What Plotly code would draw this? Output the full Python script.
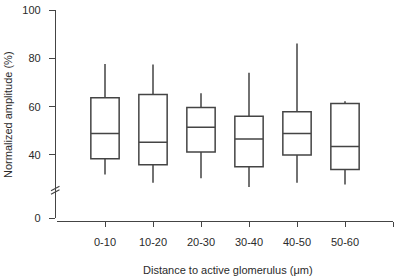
import plotly.graph_objects as go

categories = ["0-10", "10-20", "20-30", "30-40", "40-50", "50-60"]
upper_whisker = [77.8, 77.6, 65.6, 74.1, 86.3, 62.3]
q3 = [63.8, 65.1, 59.7, 56.1, 57.9, 61.4]
median = [48.9, 45.3, 51.5, 46.6, 48.9, 43.5]
q1 = [38.4, 35.9, 41.2, 35.1, 40.0, 34.0]
lower_whisker = [31.9, 28.5, 30.3, 26.7, 28.5, 27.7]

y_tick_labels = ["0", "40", "60", "80", "100"]
y_tick_values = [40, 60, 80, 100]
axis_break_bottom = 13.8  # value drawn at the bottom of the broken axis (labelled 0)

W, H = 397, 278
ML, MR, MT, MB = 55, 4, 8, 57
PW = W - ML - MR
PH = H - MT - MB

def px(x):
    return (x - ML) / PW

def py(y):
    return (H - MB - y) / PH

positions = list(range(len(categories)))
line_col = "#444444"
text_col = "#2a2a2a"
font = dict(family="Liberation Sans, Arial, sans-serif", size=11, color=text_col)

fig = go.Figure()
fig.add_trace(go.Box(
    x=positions,
    q1=q1, median=median, q3=q3,
    lowerfence=lower_whisker, upperfence=upper_whisker,
    boxpoints=False,
    width=0.59,
    whiskerwidth=0,
    fillcolor="rgba(0,0,0,0)",
    line=dict(color=line_col, width=1.5),
    showlegend=False,
    hoverinfo="skip",
))

shapes = []
# axis break slashes
for dy in (0, 3.5):
    shapes.append(dict(type="line", xref="paper", yref="paper",
                       x0=px(51), y0=py(190.5 + dy), x1=px(59.5), y1=py(186 + dy),
                       line=dict(color=line_col, width=1.2)))

fig.update_layout(
    width=W, height=H,
    margin=dict(l=ML, r=MR, t=MT, b=MB),
    paper_bgcolor="white", plot_bgcolor="white",
    font=font,
    shapes=shapes,
    xaxis=dict(
        domain=[2 / PW, 1],
        anchor="free", position=0,
        range=[-1, len(categories)],
        tickvals=positions + [len(categories)],
        ticktext=categories + [""],
        ticks="outside", ticklen=5, tickwidth=1.3, tickcolor=line_col,
        showline=True, linecolor=line_col, linewidth=1.3,
        showgrid=False, zeroline=False,
        ticklabelstandoff=6,
        tickfont=font,
    ),
    yaxis=dict(
        domain=[3 / PH, 1],
        anchor="free", position=0,
        range=[axis_break_bottom, 100.2],
        tickvals=[axis_break_bottom + 0.01] + y_tick_values,
        ticktext=y_tick_labels,
        ticks="outside", ticklen=6, tickwidth=1.3, tickcolor=line_col,
        showline=True, linecolor=line_col, linewidth=1.3,
        showgrid=False, zeroline=False,
        ticklabelstandoff=6,
        tickfont=font,
    ),
    annotations=[
        dict(text="Normalized amplitude (%)", xref="paper", yref="paper",
             x=px(8), y=py(114), textangle=-90, showarrow=False,
             xanchor="center", yanchor="middle", font=font),
        dict(text="Distance to active glomerulus (μm)", xref="paper", yref="paper",
             x=px(228), y=py(270.5), showarrow=False,
             xanchor="center", yanchor="middle", font=font),
    ],
)

fig.write_html("out.html", config={"displayModeBar": False},
               post_script="document.body.style.margin='0';document.body.style.overflow='hidden';")
